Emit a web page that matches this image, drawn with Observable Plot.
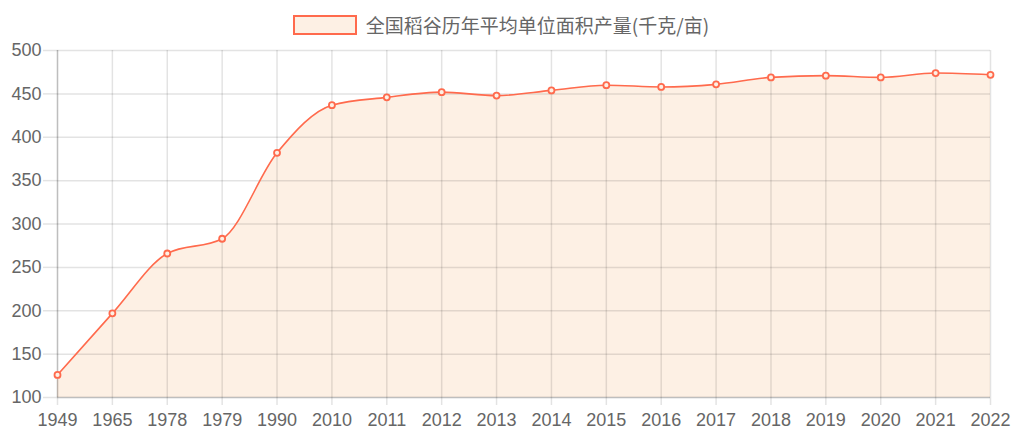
<!DOCTYPE html>
<html>
<head>
<meta charset="utf-8">
<script src="https://cdn.jsdelivr.net/npm/d3@7"></script>
<script src="https://cdn.jsdelivr.net/npm/@observablehq/plot@0.6"></script>
<style>
  html, body { margin: 0; padding: 0; background: #fff; }
  #legend { height: 40px; display: flex; align-items: center; justify-content: center; box-sizing: border-box; padding-top: 9px; padding-right: 12px; }
  #legend .sw { width: 60px; height: 16px; background: #fdf0e4; border: 2px solid #ff6a4d; box-sizing: content-box; margin-right: 9px; }
  #legend .tx { font-family: "Noto Sans CJK SC", sans-serif; font-size: 19px; color: #666; }
  svg { display: block; }
</style>
</head>
<body>
<div id="legend"><div class="sw"></div><div class="tx">全国稻谷历年平均单位面积产量(千克/亩)</div></div>
<div id="chart"></div>
<script>
const years = ["1949","1965","1978","1979","1990","2010","2011","2012","2013","2014","2015","2016","2017","2018","2019","2020","2021","2022"];
const yields = [126, 197, 266, 283, 382, 437, 446, 452, 448, 454, 460, 458, 461, 469, 471, 469, 474, 472];
const yTicks = [100, 150, 200, 250, 300, 350, 400, 450, 500];

const data = years.map((y, i) => ({year: y, value: yields[i]}));
const gridColor = "rgba(0,0,0,0.11)";

const chart = Plot.plot({
  width: 1014,
  height: 400,
  marginTop: 10,
  marginBottom: 43,
  marginLeft: 57,
  marginRight: 24,
  style: {fontFamily: "'Liberation Sans', Arial, sans-serif", fontSize: "18px", color: "#666", background: "#fff"},
  x: {type: "point", domain: years, padding: 0, round: false, label: null},
  y: {domain: [100, 500], label: null},
  marks: [
    Plot.areaY(data, {x: "year", y1: 100, y2: "value", fill: "#fdf0e4", curve: "monotone-x"}),
    Plot.gridY(yTicks, {stroke: gridColor, strokeOpacity: 1, strokeWidth: 1.5}),
    Plot.gridX(years, {stroke: gridColor, strokeOpacity: 1, strokeWidth: 1.5}),
    Plot.axisY(yTicks, {tickSize: 14, tickPadding: 2, stroke: gridColor, strokeOpacity: 1, strokeWidth: 1.5, fill: "#666", label: null}),
    Plot.axisX(years, {tickSize: 8, tickPadding: 8, stroke: gridColor, strokeOpacity: 1, strokeWidth: 1.5, fill: "#666", label: null}),
    Plot.ruleX([years[0]], {stroke: "rgba(0,0,0,0.16)", strokeWidth: 1.5}),
    Plot.ruleY([100], {stroke: "rgba(0,0,0,0.16)", strokeWidth: 1.5}),
    Plot.line(data, {x: "year", y: "value", stroke: "#ff6a4d", strokeWidth: 1.6, curve: "monotone-x"}),
    Plot.dot(data, {x: "year", y: "value", r: 3, stroke: "#ff6a4d", strokeWidth: 1.8, fill: "#fdf0e4"})
  ]
});
document.getElementById("chart").appendChild(chart);
</script>
</body>
</html>
